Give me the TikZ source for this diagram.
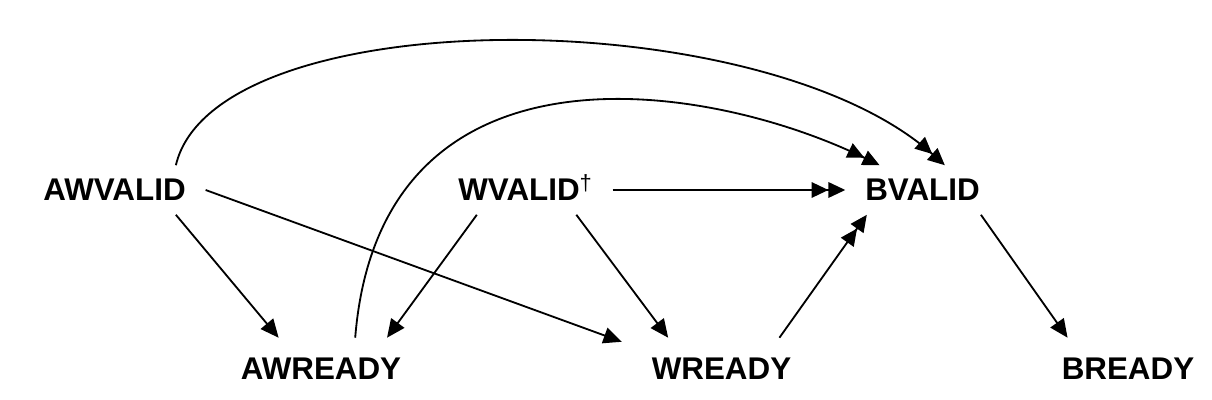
\documentclass[tikz,border=0pt]{standalone}
\usepackage{fontspec}
\setmainfont{Liberation Sans}
\usetikzlibrary{arrows.meta}
\tikzstyle{valido} = [font=\fontsize{22.3}{27}\selectfont\bfseries, inner xsep=0.5cm, inner ysep=0.35cm, outer sep=0pt]
\tikzstyle{pronto} = [valido, inner xsep=0.75cm, inner ysep=0.5cm]
\tikzstyle{arrow} = [line width=1.3pt,-{Triangle[length=13pt,width=11.5pt]}]
\tikzstyle{doppia} = [line width=1.3pt,-{Triangle[length=12pt,width=11pt]Triangle[length=12pt,width=11pt]}]

\begin{document}
\begin{tikzpicture}[x=0.025cm,y=-0.025cm]
	\useasboundingbox (0,0) rectangle (1212,400);
	\node (awvalid) at (114.5,190) [valido] {AWVALID};
	\node (wvalid) at (525.5,190) [valido] {WVALID\textsuperscript{\smash{\mdseries\textdagger}}};
	\node (bvalid) at (922.5,190) [valido] {BVALID};
	\node (awready) at (321,368.5) [pronto] {AWREADY};
	\node (wready) at (721.5,368.5) [pronto] {WREADY};
	\node (bready) at (1128,368.5) [pronto] {BREADY};
	\draw[arrow] (awvalid.-22) -- (awready.144.4);
	\draw[arrow] (awvalid.east) -- (wready.165);
	\draw[doppia] (awvalid.22) .. controls (215,0) and (760,0) .. (bvalid.48);
	\draw[arrow] (wvalid.207.7) -- (awready.25.2);
	\draw[arrow] (wvalid.-26.3) -- (wready.150.4);
	\draw[doppia] (wvalid.east) -- (bvalid.west);
	\draw[doppia] (awready.42) .. controls (380,30) and (705,80) .. (bvalid.150.7);
	\draw[doppia] (wready.28.8) -- (bvalid.204.2);
	\draw[arrow] (bvalid.-23.9) -- (bready.153);
\end{tikzpicture}
\end{document}
